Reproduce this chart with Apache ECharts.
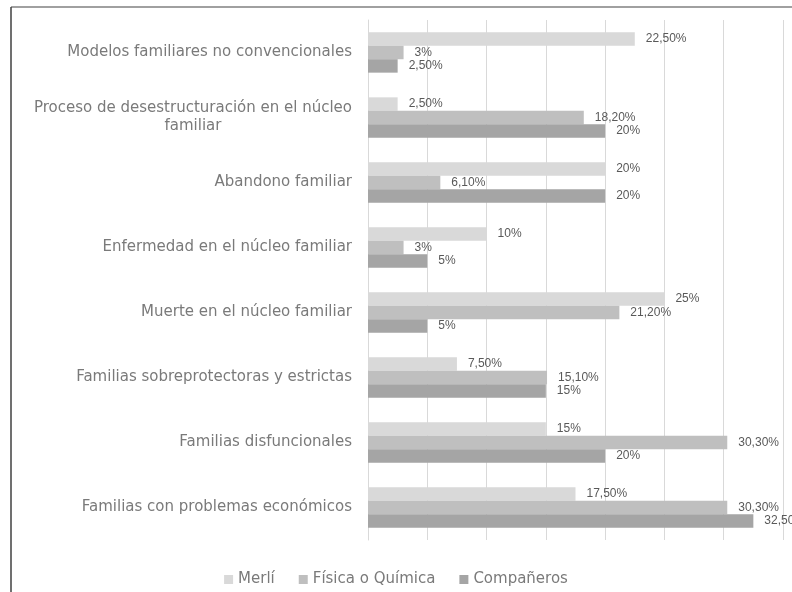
<!DOCTYPE html>
<html>
<head>
<meta charset="utf-8">
<script src="https://cdn.jsdelivr.net/npm/echarts@6/dist/echarts.min.js"></script>
<style>html,body{margin:0;padding:0;background:#fff;}#c{width:792px;height:592px;}</style>
</head>
<body>
<div id="c"></div>
<script>
const categories = [
  "Modelos familiares no convencionales",
  "Proceso de desestructuración en el núcleo\nfamiliar",
  "Abandono familiar",
  "Enfermedad en el núcleo familiar",
  "Muerte en el núcleo familiar",
  "Familias sobreprotectoras y estrictas",
  "Familias disfuncionales",
  "Familias con problemas económicos"
];
const seriesNames = ["Merlí", "Física o Química", "Compañeros"];
const merli = [22.5, 2.5, 20, 10, 25, 7.5, 15, 17.5];
const fisica = [3, 18.2, 6.1, 3, 21.2, 15.1, 30.3, 30.3];
const companeros = [2.5, 20, 20, 5, 5, 15, 20, 32.5];
const colors = ["#d9d9d9", "#bfbfbf", "#a5a5a5"];

const fmt = v => (Number.isInteger(v) ? String(v) : v.toFixed(2).replace('.', ',')) + '%';
const labelFont = "Century Gothic, 'DejaVu Sans', sans-serif";

function mkSeries(name, data, color) {
  return {
    name: name, type: 'bar', data: data,
    barGap: '0%', barCategoryGap: '38%',
    itemStyle: { color: color },
    label: {
      show: true, position: 'right', distance: 11,
      formatter: p => fmt(p.value),
      fontFamily: "'Liberation Sans', Arial, sans-serif", fontSize: 12, color: '#595959'
    }
  };
}

const chart = echarts.init(document.getElementById('c'), null, { renderer: 'canvas' });
chart.setOption({
  animation: false,
  backgroundColor: '#fff',
  color: colors,
  graphic: [
    { type: 'line', shape: { x1: 11, y1: 7, x2: 800, y2: 7 }, style: { stroke: '#808080', lineWidth: 1.5 } },
    { type: 'line', shape: { x1: 11, y1: 7, x2: 11, y2: 600 }, style: { stroke: '#404040', lineWidth: 1.5 } }
  ],
  grid: { left: 368, right: 9, top: 20, bottom: 52, containLabel: false },
  legend: {
    bottom: 0, left: 'center',
    itemWidth: 9, itemHeight: 9, itemGap: 24, icon: 'rect',
    textStyle: { fontFamily: labelFont, fontSize: 15, color: '#7a7a7a' },
    data: seriesNames
  },
  xAxis: {
    type: 'value', min: 0, max: 35, interval: 5,
    axisLabel: { show: false }, axisLine: { show: false }, axisTick: { show: false },
    splitLine: { show: true, lineStyle: { color: '#d9d9d9', width: 1 } }
  },
  yAxis: {
    type: 'category', inverse: true, data: categories,
    axisLine: { show: true, lineStyle: { color: '#d9d9d9' } },
    axisTick: { show: false },
    axisLabel: {
      margin: 16,
      formatter: v => v.split('\n').map(s => '{a|' + s + '}').join('\n'),
      rich: { a: { align: 'center', fontFamily: labelFont, fontSize: 15, color: '#7a7a7a', lineHeight: 18 } }
    }
  },
  series: [
    mkSeries(seriesNames[0], merli, colors[0]),
    mkSeries(seriesNames[1], fisica, colors[1]),
    mkSeries(seriesNames[2], companeros, colors[2])
  ]
});
</script>
</body>
</html>
